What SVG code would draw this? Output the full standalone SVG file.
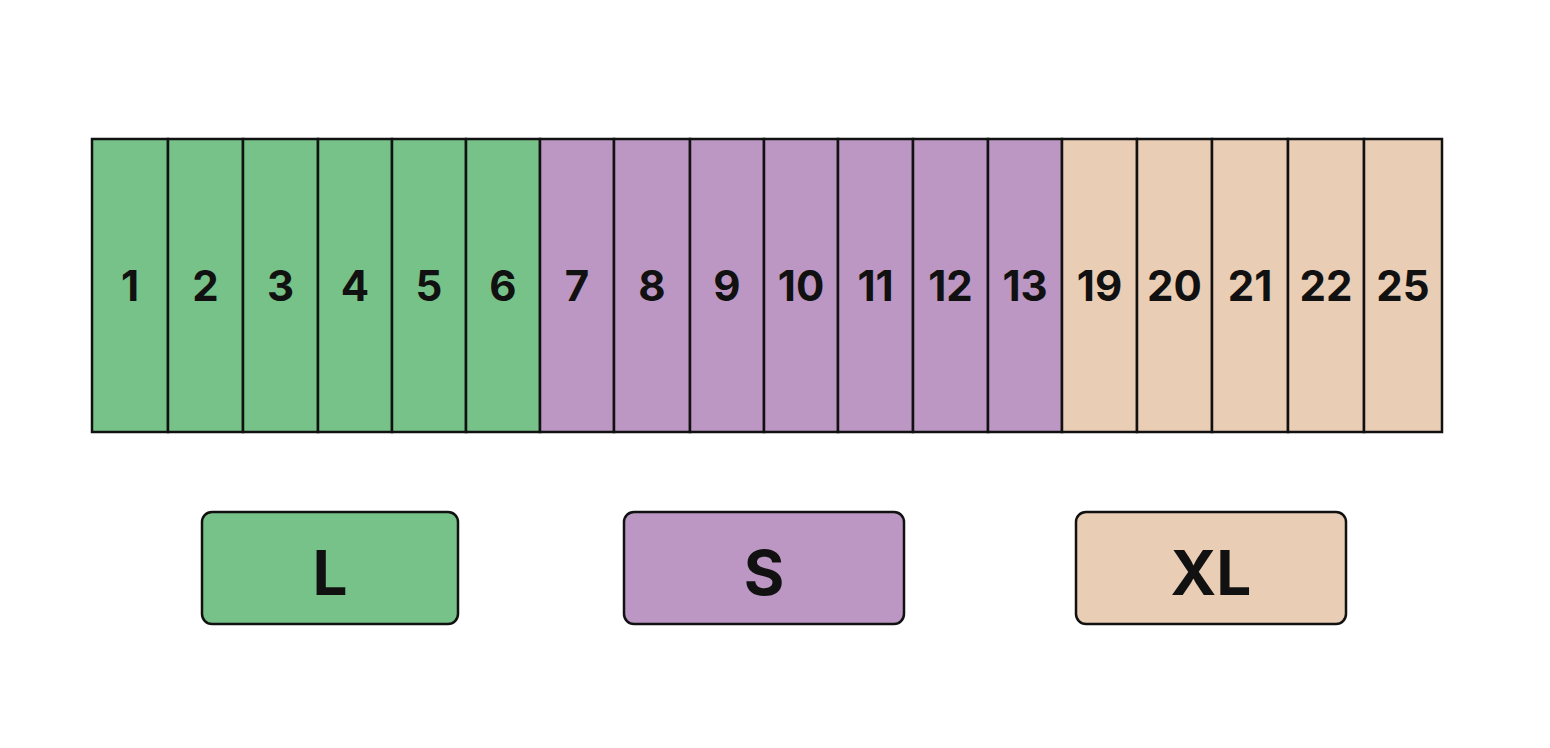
<svg xmlns="http://www.w3.org/2000/svg" width="1550" height="748" viewBox="0 0 1550 748">
<style>
.c{stroke:#111;stroke-width:2.5}
.g{fill:#77C288}.p{fill:#BC97C4}.o{fill:#E9CDB4}
.n{font-family:"Inter","Liberation Sans",sans-serif;font-weight:700;font-size:42px;fill:#111;text-anchor:middle;dominant-baseline:central}
.b{font-family:"Inter","Liberation Sans",sans-serif;font-weight:700;font-size:62px;fill:#111;text-anchor:middle;dominant-baseline:central}
</style>
<rect width="1550" height="748" fill="#fff"/>
<g id="cells">
<g id="c1"><rect class="c g" x="92" y="139" width="76" height="293"/><text class="n" x="130" y="285">1</text></g>
<g id="c2"><rect class="c g" x="168" y="139" width="75" height="293"/><text class="n" x="205.5" y="285">2</text></g>
<g id="c3"><rect class="c g" x="243" y="139" width="75" height="293"/><text class="n" x="280.5" y="285">3</text></g>
<g id="c4"><rect class="c g" x="318" y="139" width="74" height="293"/><text class="n" x="355" y="285">4</text></g>
<g id="c5"><rect class="c g" x="392" y="139" width="74" height="293"/><text class="n" x="429" y="285">5</text></g>
<g id="c6"><rect class="c g" x="466" y="139" width="74" height="293"/><text class="n" x="503" y="285">6</text></g>
<g id="c7"><rect class="c p" x="540" y="139" width="74" height="293"/><text class="n" x="577" y="285">7</text></g>
<g id="c8"><rect class="c p" x="614" y="139" width="76" height="293"/><text class="n" x="652" y="285">8</text></g>
<g id="c9"><rect class="c p" x="690" y="139" width="74" height="293"/><text class="n" x="727" y="285">9</text></g>
<g id="c10"><rect class="c p" x="764" y="139" width="74" height="293"/><text class="n" x="801" y="285">10</text></g>
<g id="c11"><rect class="c p" x="838" y="139" width="75" height="293"/><text class="n" x="875.5" y="285">11</text></g>
<g id="c12"><rect class="c p" x="913" y="139" width="75" height="293"/><text class="n" x="950.5" y="285">12</text></g>
<g id="c13"><rect class="c p" x="988" y="139" width="74" height="293"/><text class="n" x="1025" y="285">13</text></g>
<g id="c19"><rect class="c o" x="1062" y="139" width="75" height="293"/><text class="n" x="1099.5" y="285">19</text></g>
<g id="c20"><rect class="c o" x="1137" y="139" width="75" height="293"/><text class="n" x="1174.5" y="285">20</text></g>
<g id="c21"><rect class="c o" x="1212" y="139" width="76" height="293"/><text class="n" x="1250" y="285">21</text></g>
<g id="c22"><rect class="c o" x="1288" y="139" width="76" height="293"/><text class="n" x="1326" y="285">22</text></g>
<g id="c25"><rect class="c o" x="1364" y="139" width="78" height="293"/><text class="n" x="1403" y="285">25</text></g>
</g>
<g id="legend">
<g id="L"><rect class="c g" x="202" y="512" width="256" height="112" rx="10"/><text class="b" x="330" y="572">L</text></g>
<g id="S"><rect class="c p" x="624" y="512" width="280" height="112" rx="10"/><text class="b" x="764" y="572">S</text></g>
<g id="XL"><rect class="c o" x="1076" y="512" width="270" height="112" rx="10"/><text class="b" x="1211" y="572">XL</text></g>
</g>
<g id="connectors"/>
</svg>
